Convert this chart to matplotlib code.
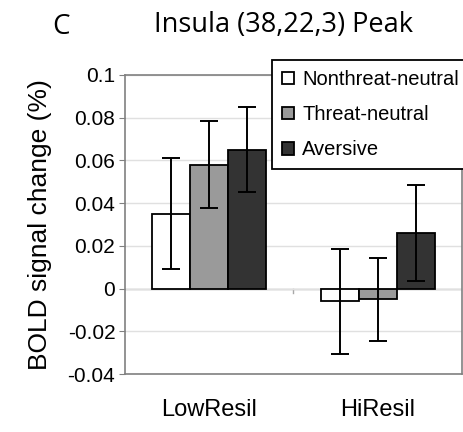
import matplotlib
matplotlib.use('Agg')
import matplotlib.pyplot as plt
import numpy as np

# values
groups = ['LowResil', 'HiResil']
conditions = ['Nonthreat-neutral', 'Threat-neutral', 'Aversive']
means = {
    'Nonthreat-neutral': [0.035, -0.006],
    'Threat-neutral': [0.058, -0.005],
    'Aversive': [0.065, 0.026],
}
errors = {
    'Nonthreat-neutral': [0.026, 0.0245],
    'Threat-neutral': [0.0205, 0.0195],
    'Aversive': [0.020, 0.0225],
}
colors = ['#ffffff', '#9a9a9a', '#333333']
yticks = [-0.04, -0.02, 0, 0.02, 0.04, 0.06, 0.08, 0.1]
ytick_labels = ['-0.04', '-0.02', '0', '0.02', '0.04', '0.06', '0.08', '0.1']

plt.rcParams['font.family'] = ['Liberation Sans', 'DejaVu Sans']

fig = plt.figure(figsize=(4.63, 4.32), dpi=100)
ax = fig.add_axes([125/463, 1-374/432, 337/463, 299/432])

x = np.arange(len(groups))
width = 0.226
for i, cond in enumerate(conditions):
    ax.bar(x + (i - 1) * width, means[cond], width, color=colors[i],
           edgecolor='black', linewidth=1.3, label=cond, zorder=3)
    ax.errorbar(x + (i - 1) * width, means[cond], yerr=errors[cond], fmt='none',
                ecolor='black', elinewidth=1.4, capsize=6.5, capthick=1.4, zorder=4)

ax.set_xlim(-0.5, 1.5)
ax.set_ylim(-0.04, 0.1)
ax.set_yticks(yticks)
ax.set_yticklabels(ytick_labels, fontsize=15)
ax.yaxis.grid(True, color='#e0e0e0', linewidth=1.0, zorder=0)
ax.axhline(0, color='#a8a8a8', linewidth=1.0, zorder=1)
# category separator tick on the zero line
ax.plot([0.5, 0.5], [0, -0.002], color='#a8a8a8', linewidth=1.0, zorder=1)

ax.set_xticks(x)
ax.set_xticklabels(groups, fontsize=17)
ax.tick_params(axis='x', length=0, pad=18)
ax.tick_params(axis='y', length=4, color='#808080', pad=3)
for s in ax.spines.values():
    s.set_color('#808080')
    s.set_linewidth(1.2)

ax.set_ylabel('BOLD signal change (%)', fontsize=19, labelpad=11)

fig.text(61/463, 1-27/432, 'C', fontsize=20, family='Open Sans', ha='center', va='center')
fig.text(284/463, 1-25/432, 'Insula (38,22,3) Peak', fontsize=19.5, family='Open Sans',
         ha='center', va='center')

leg = fig.legend(loc='upper left', bbox_to_anchor=(272/463, 1-60/432), fontsize=14.5,
                 frameon=True, fancybox=False, edgecolor='black', framealpha=1,
                 handlelength=0.6, handleheight=0.6, handletextpad=0.4,
                 labelspacing=0.8, borderpad=0.5, borderaxespad=0)
leg.get_frame().set_linewidth(1.3)

fig.savefig('out.png', dpi=100)
